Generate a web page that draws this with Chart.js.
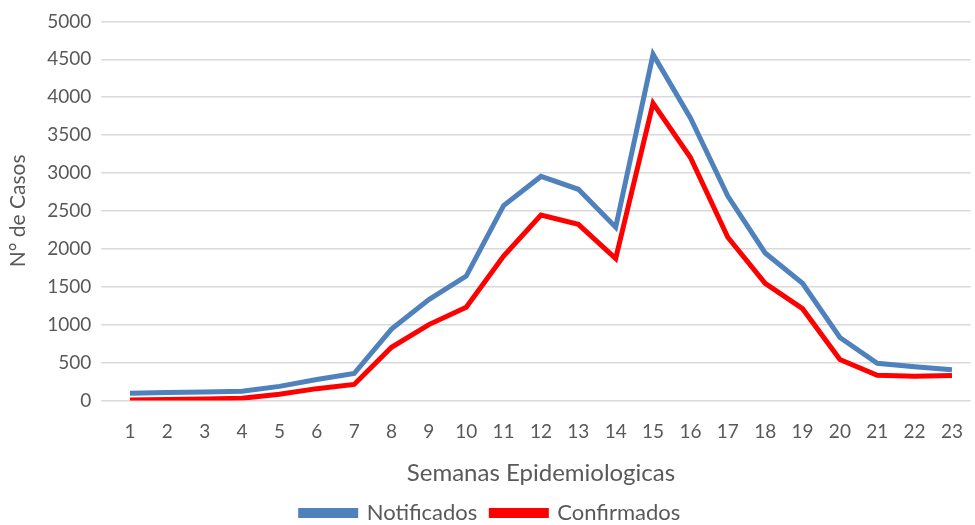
<!DOCTYPE html>
<html>
<head>
<meta charset="utf-8">
<script src="https://cdn.jsdelivr.net/npm/chart.js@4/dist/chart.umd.min.js"></script>
<style>
  html, body { margin: 0; padding: 0; background: #fff; }
  #wrap { width: 975px; height: 525px; }
</style>
</head>
<body>
<div id="wrap"><canvas id="chart" width="975" height="525"></canvas></div>
<script>
// semanas epidemiologicas 1..23
const semanas = ["1","2","3","4","5","6","7","8","9","10","11","12","13","14","15","16","17","18","19","20","21","22","23"];
const notificados = [95, 105, 112, 120, 185, 275, 355, 940, 1330, 1640, 2570, 2955, 2785, 2285, 4565, 3725, 2695, 1945, 1545, 830, 490, 445, 405];
const confirmados = [5, 12, 20, 28, 80, 155, 210, 700, 1000, 1228, 1905, 2445, 2322, 1870, 3920, 3205, 2152, 1545, 1210, 540, 332, 318, 330];
const yMin = 0, yMax = 5000, yStep = 500;

const grey = "#595959";
const fuente = "Lato, 'Noto Sans', sans-serif";

new Chart(document.getElementById("chart"), {
  type: "line",
  data: {
    labels: semanas,
    datasets: [
      { label: "Notificados", data: notificados, borderColor: "#4f81bd", backgroundColor: "#4f81bd", borderWidth: 5, pointRadius: 0, tension: 0 },
      { label: "Confirmados", data: confirmados, borderColor: "#ff0000", backgroundColor: "#ff0000", borderWidth: 5, pointRadius: 0, tension: 0 }
    ]
  },
  options: {
    responsive: false,
    animation: false,
    // bottom negativo: la leyenda queda pegada al borde como en el original
    layout: { padding: { left: 6, right: 0, top: 7, bottom: -9 } },
    plugins: {
      tooltip: { enabled: false },
      legend: {
        position: "bottom",
        labels: { color: grey, font: { family: fuente, size: 22 }, boxWidth: 55, boxHeight: 5, padding: 14 }
      }
    },
    scales: {
      x: {
        offset: true,
        grid: { display: false },
        border: { display: false },
        ticks: { color: grey, font: { family: fuente, size: 19 }, padding: 12, maxRotation: 0 },
        title: { display: true, text: "Semanas Epidemiologicas", color: grey, font: { family: fuente, size: 24 }, padding: { top: 4, bottom: 0 } }
      },
      y: {
        min: yMin, max: yMax,
        grid: { color: "#d9d9d9", lineWidth: 1.5, drawTicks: true, tickLength: 10 },
        border: { display: false },
        ticks: { stepSize: yStep, color: grey, font: { family: fuente, size: 19 }, padding: 10, callback: v => String(v) },
        title: { display: true, text: "N° de Casos", color: grey, font: { family: fuente, size: 21 }, padding: { top: 0, bottom: 6 } }
      }
    }
  }
});
</script>
</body>
</html>
